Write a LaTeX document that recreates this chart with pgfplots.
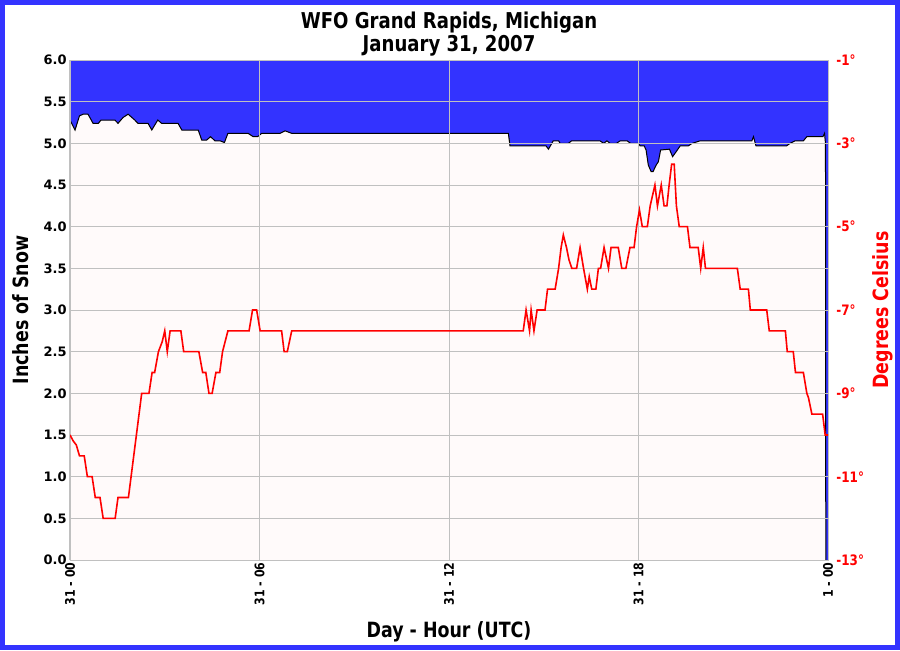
\documentclass[border=0pt]{standalone}
\usepackage{pgfplots}
\pgfplotsset{compat=1.18}
\usepackage{fontspec}
\setmainfont{DejaVu Sans}
\newfontfamily\condfont{DejaVu Sans}[FakeStretch=0.83]

\definecolor{snowblue}{RGB}{51,51,255}
\definecolor{plotbg}{RGB}{255,250,250}
\definecolor{gridgray}{RGB}{192,192,192}

\begin{document}
\begin{tikzpicture}
\useasboundingbox (0,0) rectangle (450pt,325pt);
\fill[white] (0,0) rectangle (450pt,325pt);
\draw[line width=2.5pt, snowblue] (1.25pt,1.25pt) rectangle (448.75pt,323.75pt);

% snow depth (filled from the line up to the top)
\begin{axis}[
    at={(35pt,45pt)}, anchor=south west,
    scale only axis,
    width=379pt, height=250pt,
    xmin=0, xmax=24,
    ymin=0, ymax=6,
    axis on top,
    axis background/.style={fill=plotbg},
    axis line style={draw=gridgray},
    grid=major,
    grid style={draw=gridgray, line width=0.5pt},
    major tick length=0pt,
    xtick={0,6,12,18,24},
    xticklabels={31 - 00, 31 - 06, 31 - 12, 31 - 18, 1 - 00},
    x tick label style={rotate=90, anchor=east, font=\condfont\bfseries\fontsize{6.6}{7}\selectfont, inner sep=1pt},
    ytick={0,0.5,...,6},
    y tick label style={font=\bfseries\fontsize{6.5}{7}\selectfont, inner sep=1.5pt},
    /pgf/number format/.cd, fixed, fixed zerofill, precision=1, assume math mode=true,
    /pgfplots/.cd,
    title={WFO Grand Rapids, Michigan\\January 31, 2007},
    title style={at={(axis description cs:0.5,1)}, yshift=7pt, anchor=center, align=center,
                 font=\condfont\bfseries\fontsize{10.9}{11.8}\selectfont},
    xlabel={Day - Hour (UTC)},
    xlabel style={at={(axis description cs:0.5,0)}, yshift=-36pt, anchor=center,
                  font=\condfont\bfseries\fontsize{10.5}{12}\selectfont},
    ylabel={Inches of Snow},
    ylabel style={at={(axis description cs:0,0.5)}, yshift=24.5pt, anchor=center,
                  font=\condfont\bfseries\fontsize{10.5}{12}\selectfont},
]
\addplot[fill=snowblue, draw=none] coordinates {
    (0,6) (0,5.28) (0.16,5.16) (0.3,5.33) (0.42,5.35) (0.57,5.35) (0.73,5.24) (0.9,5.24)
    (0.98,5.28) (1.42,5.28) (1.52,5.24) (1.68,5.31) (1.84,5.35) (2.05,5.28) (2.15,5.24)
    (2.47,5.24) (2.59,5.16) (2.78,5.28) (2.9,5.24) (3.42,5.24) (3.54,5.16) (4.06,5.16)
    (4.17,5.04) (4.33,5.04) (4.45,5.08) (4.59,5.03) (4.75,5.03) (4.89,5.01) (5.0,5.12)
    (5.64,5.12) (5.8,5.08) (5.94,5.08) (6.07,5.12) (6.65,5.12) (6.81,5.15) (7.02,5.12)
    (13.88,5.12) (13.93,4.97) (15.07,4.97) (15.15,4.93) (15.3,5.03) (15.47,5.03) (15.52,5.0)
    (15.78,5.0) (15.88,5.03) (16.78,5.03) (16.9,5.0) (17.0,5.03) (17.1,5.0) (17.3,5.0)
    (17.42,5.03) (17.64,5.03) (17.75,5.0) (18.0,5.0) (18.05,4.97) (18.18,4.97) (18.24,4.92)
    (18.31,4.74) (18.4,4.66) (18.46,4.66) (18.56,4.74) (18.63,4.78) (18.7,4.92) (18.98,4.93)
    (19.08,4.84) (19.23,4.92) (19.32,4.97) (19.58,4.97) (19.7,5.0) (19.95,5.03) (21.59,5.03)
    (21.64,5.08) (21.72,4.97) (22.69,4.97) (22.8,5.0) (22.96,5.03) (23.22,5.03) (23.33,5.08)
    (23.84,5.08) (23.89,5.12) (23.92,5.0) (23.93,0) (24,0) (24,6)
} -- cycle;
\addplot[black, line width=0.5pt] coordinates {
    (0,5.28) (0.16,5.16) (0.3,5.33) (0.42,5.35) (0.57,5.35) (0.73,5.24) (0.9,5.24)
    (0.98,5.28) (1.42,5.28) (1.52,5.24) (1.68,5.31) (1.84,5.35) (2.05,5.28) (2.15,5.24)
    (2.47,5.24) (2.59,5.16) (2.78,5.28) (2.9,5.24) (3.42,5.24) (3.54,5.16) (4.06,5.16)
    (4.17,5.04) (4.33,5.04) (4.45,5.08) (4.59,5.03) (4.75,5.03) (4.89,5.01) (5.0,5.12)
    (5.64,5.12) (5.8,5.08) (5.94,5.08) (6.07,5.12) (6.65,5.12) (6.81,5.15) (7.02,5.12)
    (13.88,5.12) (13.93,4.97) (15.07,4.97) (15.15,4.93) (15.3,5.03) (15.47,5.03) (15.52,5.0)
    (15.78,5.0) (15.88,5.03) (16.78,5.03) (16.9,5.0) (17.0,5.03) (17.1,5.0) (17.3,5.0)
    (17.42,5.03) (17.64,5.03) (17.75,5.0) (18.0,5.0) (18.05,4.97) (18.18,4.97) (18.24,4.92)
    (18.31,4.74) (18.4,4.66) (18.46,4.66) (18.56,4.74) (18.63,4.78) (18.7,4.92) (18.98,4.93)
    (19.08,4.84) (19.23,4.92) (19.32,4.97) (19.58,4.97) (19.7,5.0) (19.95,5.03) (21.59,5.03)
    (21.64,5.08) (21.72,4.97) (22.69,4.97) (22.8,5.0) (22.96,5.03) (23.22,5.03) (23.33,5.08)
    (23.84,5.08) (23.89,5.12) (23.92,5.0) (23.93,0)
};
\end{axis}

% temperature on the right-hand scale
\begin{axis}[
    at={(35pt,45pt)}, anchor=south west,
    scale only axis,
    width=379pt, height=250pt,
    xmin=0, xmax=24,
    ymin=-13, ymax=-1,
    hide x axis,
    axis y line*=right,
    y axis line style={draw=none},
    major tick length=0pt,
    ytick={-13,-11,-9,-7,-5,-3,-1},
    yticklabels={-13°,-11°,-9°,-7°,-5°,-3°,-1°},
    y tick label style={red, font=\condfont\bfseries\fontsize{7.2}{8}\selectfont, inner sep=1pt, xshift=3pt},
    ylabel={Degrees Celsius},
    ylabel style={red, at={(axis description cs:1,0.5)}, yshift=-27.5pt, anchor=center,
                  font=\condfont\bfseries\fontsize{10.5}{12}\selectfont},
]
\addplot[red, line width=0.8pt] coordinates {
    (0,-10) (0.1,-10.14) (0.2,-10.24) (0.3,-10.5) (0.45,-10.5) (0.55,-11) (0.7,-11)
    (0.8,-11.5) (0.95,-11.5) (1.05,-12) (1.43,-12) (1.52,-11.5) (1.85,-11.5) (2.27,-9)
    (2.5,-9) (2.6,-8.5) (2.68,-8.5) (2.8,-8) (2.92,-7.76) (3.0,-7.5) (3.08,-8) (3.17,-7.5)
    (3.51,-7.5) (3.6,-8) (4.08,-8) (4.2,-8.5) (4.3,-8.5) (4.4,-9) (4.5,-9) (4.62,-8.5)
    (4.74,-8.5) (4.83,-8) (5.0,-7.5) (5.67,-7.5) (5.78,-7) (5.91,-7) (6.02,-7.5) (6.7,-7.5)
    (6.78,-8) (6.88,-8) (7.02,-7.5) (14.35,-7.5) (14.44,-7) (14.55,-7.5) (14.6,-7)
    (14.69,-7.5) (14.79,-7) (15.04,-7) (15.12,-6.5) (15.36,-6.5) (15.47,-6) (15.55,-5.5)
    (15.62,-5.2) (15.72,-5.5) (15.8,-5.8) (15.89,-6) (16.04,-6) (16.15,-5.5) (16.26,-6)
    (16.38,-6.5) (16.44,-6.2) (16.52,-6.5) (16.65,-6.5) (16.73,-6) (16.8,-6) (16.91,-5.5)
    (17.05,-6) (17.13,-5.5) (17.36,-5.5) (17.47,-6) (17.6,-6) (17.73,-5.5) (17.86,-5.5)
    (17.94,-5) (18.03,-4.6) (18.12,-5) (18.28,-5) (18.37,-4.5) (18.52,-4) (18.6,-4.5)
    (18.72,-4) (18.81,-4.5) (18.9,-4.5) (18.97,-4) (19.05,-3.5) (19.13,-3.5) (19.2,-4.5)
    (19.29,-5) (19.55,-5) (19.63,-5.5) (19.89,-5.5) (19.97,-6) (20.05,-5.5) (20.12,-6)
    (21.13,-6) (21.22,-6.5) (21.48,-6.5) (21.54,-7) (22.06,-7) (22.14,-7.5) (22.65,-7.5)
    (22.71,-8) (22.9,-8) (22.97,-8.5) (23.22,-8.5) (23.33,-9) (23.38,-9.1) (23.49,-9.5)
    (23.83,-9.5) (23.91,-10) (24,-10)
};
\end{axis}
\end{tikzpicture}
\end{document}
